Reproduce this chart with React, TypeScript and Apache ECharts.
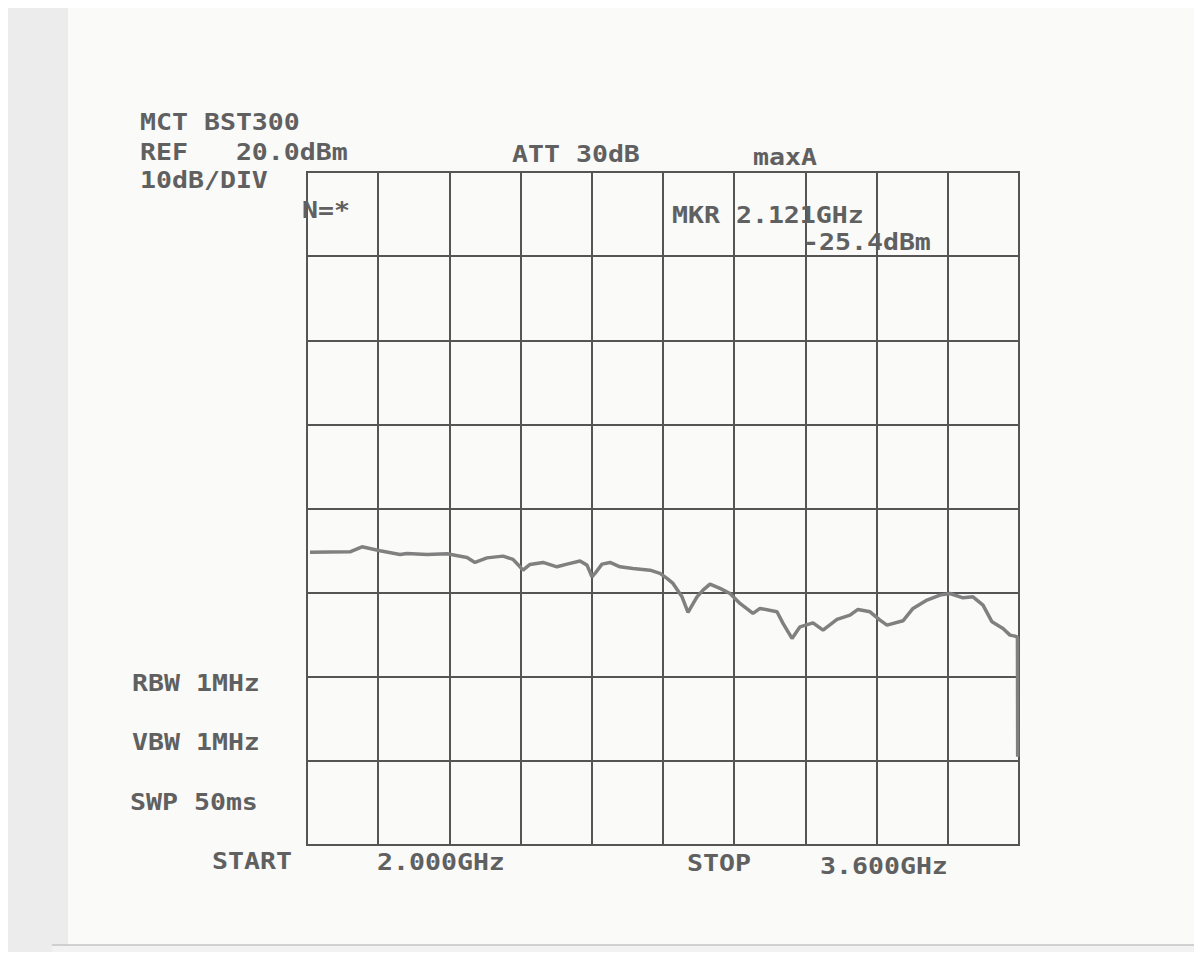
import React, { useEffect, useRef } from "react";
import * as echarts from "echarts";

// Sweep settings (GHz / dBm)
const START_GHZ = 2.0;
const STOP_GHZ = 3.6;
const REF_DBM = 20;
const DB_PER_DIV = 10;
const Y_DIVS = 8;
const X_DIVS = 10;

// Trace: frequency (GHz) and level (dBm)
const freqGHz = [
  2.0067, 2.0966, 2.1236, 2.164, 2.209, 2.2247, 2.2697, 2.3146, 2.3596, 2.3775,
  2.4045, 2.4404, 2.4629, 2.4787, 2.4854, 2.5011, 2.5303, 2.5618, 2.5843, 2.6135,
  2.6292, 2.6404, 2.6472, 2.6629, 2.6809, 2.7034, 2.7326, 2.7708, 2.7933, 2.809,
  2.8225, 2.8427, 2.8562, 2.8764, 2.8899, 2.9056, 2.9281, 2.9506, 2.973, 3.0022,
  3.018, 3.0562, 3.0697, 3.0899, 3.1079, 3.1371, 3.1596, 3.191, 3.2202, 3.2382,
  3.2652, 3.2876, 3.3034, 3.3393, 3.3618, 3.3933, 3.4225, 3.4449, 3.4742, 3.4966,
  3.5191, 3.5393, 3.564, 3.5798, 3.591, 3.5965, 3.597,
];
const levelDbm = [
  -25.2, -25.15, -24.55, -25.03, -25.46, -25.34, -25.46, -25.39, -25.82, -26.41,
  -25.87, -25.66, -26.05, -26.93, -27.33, -26.65, -26.41, -26.93, -26.61, -26.25,
  -26.73, -28.12, -27.72, -26.61, -26.41, -26.93, -27.12, -27.33, -27.72, -28.31,
  -28.91, -30.5, -32.36, -30.5, -29.7, -28.99, -29.5, -30.1, -31.28, -32.47,
  -31.88, -32.28, -33.66, -35.45, -34.07, -33.59, -34.46, -33.19, -32.68, -32.0,
  -32.28, -33.27, -33.86, -33.35, -31.88, -30.89, -30.3, -30.1, -30.62, -30.5,
  -31.49, -33.47, -34.26, -35.05, -35.17, -35.3, -49.5,
];

// Annotation texts
const headerLines = ["MCT BST300", "REF   20.0dBm", "10dB/DIV"];
const settingTexts = ["ATT 30dB", "maxA", "N=*"];
const markerTexts = ["MKR 2.121GHz", "-25.4dBm"];
const bandwidthTexts = ["RBW 1MHz", "VBW 1MHz", "SWP 50ms"];
const footerTexts = ["START", "2.000GHz", "STOP", "3.600GHz"];

const SPAN_MHZ = (STOP_GHZ - START_GHZ) * 1000;
const DIV_MHZ = SPAN_MHZ / X_DIVS;

const FONT = "'DejaVu Sans Mono', 'Liberation Mono', monospace";
const TEXT_COLOR = "#606060";
const SX = 1.155;

function label(text: string, x: number, y: number) {
  return {
    type: "text",
    x,
    y,
    scaleX: SX,
    z: 10,
    style: {
      text,
      x: 0,
      y: 0,
      fill: TEXT_COLOR,
      font: `bold 23px ${FONT}`,
      align: "left",
      verticalAlign: "middle",
    },
  };
}

export default function App() {
  const ref = useRef<HTMLDivElement>(null);

  useEffect(() => {
    if (!ref.current) return;
    const chart = echarts.init(ref.current, null, { renderer: "svg" });
    const points = freqGHz.map((f, i) => [
      Math.round((f - START_GHZ) * 1000 * 10) / 10,
      levelDbm[i],
    ]);
    chart.setOption({
      animation: false,
      backgroundColor: "#fafaf9",
      grid: {
        left: 299,
        top: 164,
        right: 175,
        bottom: 107,
        show: true,
        borderColor: "#505050",
        borderWidth: 2,
        backgroundColor: "transparent",
      },
      xAxis: {
        type: "value",
        min: 0,
        max: SPAN_MHZ,
        interval: DIV_MHZ,
        axisLine: { show: false },
        axisTick: { show: false },
        axisLabel: { show: false },
        splitLine: { show: true, lineStyle: { color: "#555555", width: 2 } },
      },
      yAxis: {
        type: "value",
        min: REF_DBM - DB_PER_DIV * Y_DIVS,
        max: REF_DBM,
        interval: DB_PER_DIV,
        axisLine: { show: false },
        axisTick: { show: false },
        axisLabel: { show: false },
        splitLine: { show: true, lineStyle: { color: "#555555", width: 2 } },
      },
      series: [
        {
          type: "line",
          data: points,
          showSymbol: false,
          symbol: "none",
          lineStyle: { color: "#808080", width: 3.5 },
          z: 5,
        },
      ],
      graphic: [
        {
          type: "rect",
          z: -10,
          silent: true,
          shape: { x: 0, y: 0, width: 60, height: 944 },
          style: { fill: "#ececec" },
        },
        {
          type: "rect",
          z: -10,
          silent: true,
          shape: { x: 44, y: 937, width: 1142, height: 7 },
          style: { fill: "#f2f2f2" },
        },
        {
          type: "line",
          z: -9,
          silent: true,
          shape: { x1: 44, y1: 937, x2: 1186, y2: 937 },
          style: { stroke: "#c4c4c4", lineWidth: 1.5 },
        },
        label(headerLines[0], 132, 114),
        label(headerLines[1], 132, 144),
        label(headerLines[2], 132, 172.5),
        label(settingTexts[0], 504, 146),
        label(settingTexts[1], 745, 149.5),
        label(settingTexts[2], 294, 202),
        label(markerTexts[0], 664, 207),
        label(markerTexts[1], 795, 234),
        label(bandwidthTexts[0], 124, 675),
        label(bandwidthTexts[1], 124, 734),
        label(bandwidthTexts[2], 122, 794.5),
        label(footerTexts[0], 204, 853),
        label(footerTexts[1], 369, 854.5),
        label(footerTexts[2], 679, 855),
        label(footerTexts[3], 812, 858),
      ],
    });
    return () => chart.dispose();
  }, []);

  return <div ref={ref} style={{ width: 1186, height: 944 }} />;
}
